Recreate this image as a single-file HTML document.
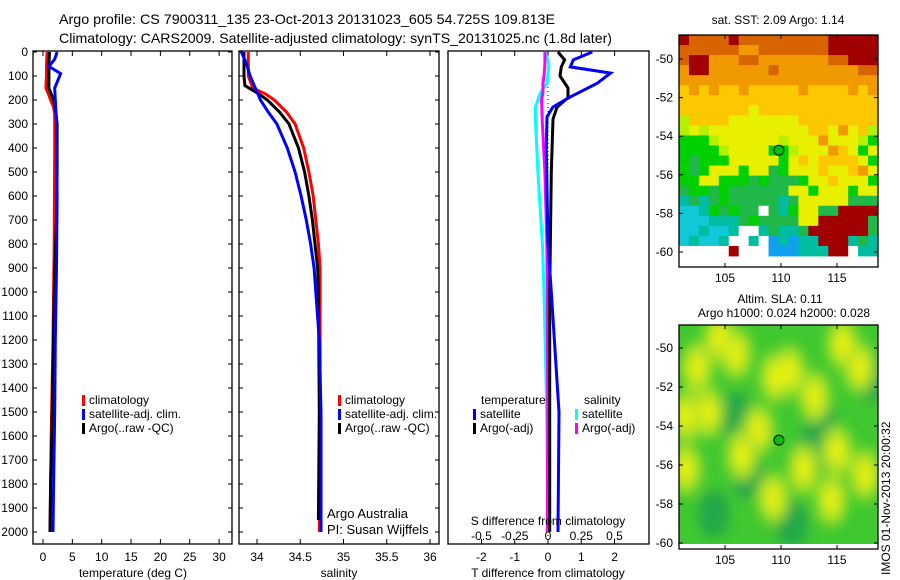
<!DOCTYPE html>
<html><head><meta charset="utf-8"><style>
body{margin:0;background:#fff;}
svg{display:block;font-family:"Liberation Sans",sans-serif;}
</style></head><body>
<svg id="fig" width="900" height="580" viewBox="0 0 900 580">
<rect width="900" height="580" fill="#fff"/>
<g font-size="14" fill="#000">
<text x="59" y="24" textLength="496" lengthAdjust="spacingAndGlyphs">Argo profile: CS 7900311_135 23-Oct-2013 20131023_605 54.725S 109.813E</text>
<text x="59" y="43" textLength="553" lengthAdjust="spacingAndGlyphs">Climatology: CARS2009. Satellite-adjusted climatology: synTS_20131025.nc (1.8d later)</text>
</g>
<g id="p1"></g>
<g id="p2"></g>
<g id="p3"></g>
<g id="m1"></g>
<g id="m2"></g>
<text transform="translate(890,575) rotate(-90)" font-size="12">IMOS 01-Nov-2013 20:00:32</text>
</svg>
<script>
// ---- data ----
const depthTicks = [0,100,200,300,400,500,600,700,800,900,1000,1100,1200,1300,1400,1500,1600,1700,1800,1900,2000];
const tempTicks = [0,5,10,15,20,25,30];
const salTicks = [34,34.5,35,35.5,36];
const tdiffTicks = [-2,-1,0,1,2];
const sdiffTicks = [-0.5,-0.25,0,0.25,0.5];

const tClimDepth = [0,50,100,150,180,200,230,260,400,800,1200,1600,2000];
const tClimVal   = [0.7,0.6,0.6,0.5,1.0,1.3,1.8,2.0,2.0,1.9,1.7,1.4,1.2];
const tSatDepth  = [0,30,60,90,120,150,200,300,600,900,1200,1500,1800,2000];
const tSatVal    = [2.4,2.0,1.0,3.0,2.5,2.0,2.1,2.3,2.4,2.3,2.1,2.0,1.8,1.7];
const tArgoDepth = [0,50,100,150,200,250,300,500,700,1000,1300,1600,1800,2000];
const tArgoVal   = [1.1,1.0,1.0,1.0,1.8,2.2,2.4,2.4,2.3,1.9,1.7,1.5,1.3,1.2];

const sClimDepth = [0,100,150,175,200,250,300,400,500,600,700,800,900,1000,1500,2000];
const sClimVal   = [33.9,33.9,33.95,34.1,34.2,34.34,34.44,34.54,34.6,34.65,34.68,34.71,34.73,34.73,34.73,34.72];
const sSatDepth  = [0,50,100,150,200,250,300,400,500,600,700,800,900,1000,1200,1500,2000];
const sSatVal    = [33.82,33.88,33.92,33.98,34.04,34.13,34.23,34.35,34.44,34.51,34.57,34.62,34.66,34.68,34.72,34.74,34.74];
const sArgoDepth = [0,100,140,170,200,250,300,400,500,600,700,800,900,1000,1500,1950];
const sArgoVal   = [33.85,33.85,33.86,34.0,34.12,34.26,34.37,34.48,34.55,34.6,34.64,34.67,34.7,34.71,34.72,34.71];

const dTSatDepth = [0,33,62,88,130,187,229,270,400,800,1000,1500,2000];
const dTSatVal   = [1.33,0.76,0.67,1.88,1.48,0.67,0.15,-0.03,-0.05,0.0,0.1,0.33,0.3];
const dTArgoDepth= [0,33,62,100,150,190,230,280,500,1000,1500,2000];
const dTArgoVal  = [0.3,0.5,0.4,0.36,0.6,0.6,0.27,0.15,0.1,0.05,0.05,0.05];
const dSSatDepth = [0,50,130,170,230,280,500,800,1000,1500,2000];
const dSSatVal   = [-0.019,0.007,-0.007,-0.057,-0.095,-0.095,-0.076,-0.042,-0.03,-0.01,0.0];
const dSArgoDepth= [0,50,100,130,170,200,300,500,800,1000,1500,2000];
const dSArgoVal  = [-0.023,-0.023,-0.03,-0.038,-0.038,-0.049,-0.042,-0.023,-0.008,-0.005,-0.002,-0.005];

const sstRows = [
"ROOOOROOOOOOOOORRRRR",
"OOOOOOooOOOOOOORRRRR",
"ORRoooOOoooooooOORRR",
"oRRooooooOooooooooOO",
"oooooooooooooooooooo",
"YoYoYYoYYYYYoYYYYoYo",
"YYYYYYYYYYYYYYYYYYYY",
"YYYYYYYyYYYYYYYYYYYY",
"lYYYYyyyyyyyYYYYYYYY",
"lylyyyyyyyyyyYYyoyYl",
"GGGlyyyyyylyyyoyyylG",
"GGGGlyyyyGGlyyyoYyGy",
"GgGGGyyyyyGyYyYYYYyG",
"GgGyyyGyygGyyyYyyYoy",
"GGyyGGGgGgggGyyYyyyG",
"gGGgGggggggyyGyyyGyy",
"tgtgGgggggtgyyyyyggg",
"cctGgGggWgtGyyggRRRR",
"ccctttgGggggyyRRRRRg",
"cctcctWWtgttgRRRRRRg",
"ctcctWWtWbtbttRRRtgt",
"WWWWWRWWWbbbtttRRWtt"];
const slaBlobLon = [102.5,106,109.5,110.8,115.5,103.5,108,101.5,115,109.3,113,117,104.5,112,114.5,106.5,101.5,117.5];
const slaBlobLat = [-51,-50.3,-51.5,-51.2,-49.8,-53.3,-54.2,-56.2,-55.3,-57.7,-52.5,-51,-49.5,-56.2,-57.8,-55.5,-53.5,-56.5];
const slaLowLon = [106,112.5,104,118,111,107,113.5];
const slaLowLat = [-53.5,-55.5,-58.5,-51.5,-59,-56.5,-53.8];

// ---- helpers ----
const NS='http://www.w3.org/2000/svg';
function mk(parent,tag,attrs){const e=document.createElementNS(NS,tag);for(const k in attrs)e.setAttribute(k,attrs[k]);parent.appendChild(e);return e;}
function txt(parent,x,y,s,anchor,size){const t=mk(parent,'text',{x:x,y:y,'text-anchor':anchor||'middle','font-size':size||12});t.textContent=s;return t;}
const yD = d => 52 + 0.24*d;
const PT=51, PB=544;

function frame(g,x0,x1){
  const r=mk(g,'rect',{x:x0,y:PT,width:x1-x0,height:PB-PT,fill:'none',stroke:'#000','stroke-width':1.3});
  
  
}
function stepLine(g,depths,vals,xf,color,name,w){
  let pts=[];
  for(let i=0;i<depths.length;i++){
    pts.push(xf(vals[i]).toFixed(1)+','+yD(depths[i]).toFixed(1));
  }
  const p=mk(g,'polyline',{points:pts.join(' '),fill:'none',stroke:color,'stroke-width':w||3,'stroke-linejoin':'miter'});
  
  
}
function legend(g,x,y,color,label){
  const r=mk(g,'rect',{x:x,y:y-9,width:3,height:11,fill:color});
  
  
  const t=txt(g,x+7,y,label,'start',12);
  
  
}

// ---- panel 1 temperature ----
const g1=document.getElementById('p1');
const xT = t => 43 + 5.87*t;
frame(g1,33,232);
depthTicks.forEach(d=>{
  const y=yD(d);
  mk(g1,'line',{x1:33,x2:37,y1:y,y2:y,stroke:'#000'});
  mk(g1,'line',{x1:228,x2:232,y1:y,y2:y,stroke:'#000'});
  const t=txt(g1,28,y+4,String(d),'end',12);
  
  
});
tempTicks.forEach(v=>{
  const x=xT(v);
  mk(g1,'line',{x1:x,x2:x,y1:PB,y2:PB-5,stroke:'#000'});
  mk(g1,'line',{x1:x,x2:x,y1:PT,y2:PT+5,stroke:'#000'});
  const t=txt(g1,x,561,String(v));
  
  
});
stepLine(g1,tClimDepth,tClimVal,xT,'#f00','temp-climatology-line');
stepLine(g1,tArgoDepth,tArgoVal,xT,'#000','temp-argo-line');
stepLine(g1,tSatDepth,tSatVal,xT,'#00f','temp-satellite-line');
legend(g1,82,404,'#f00','climatology');
legend(g1,82,418,'#00f','satellite-adj. clim.');
legend(g1,82,432,'#000','Argo(..raw -QC)');
(function(){const t=txt(g1,133,577,'temperature (deg C)');})();

// ---- panel 2 salinity ----
const g2=document.getElementById('p2');
const xS = s => 257 + 86.5*(s-34);
frame(g2,239,439);
depthTicks.forEach(d=>{const y=yD(d);mk(g2,'line',{x1:239,x2:243,y1:y,y2:y,stroke:'#000'});mk(g2,'line',{x1:435,x2:439,y1:y,y2:y,stroke:'#000'});});
salTicks.forEach(v=>{
  const x=xS(v);
  mk(g2,'line',{x1:x,x2:x,y1:PB,y2:PB-5,stroke:'#000'});
  mk(g2,'line',{x1:x,x2:x,y1:PT,y2:PT+5,stroke:'#000'});
  const t=txt(g2,x,561,String(v));
  
  
});
stepLine(g2,sClimDepth,sClimVal,xS,'#f00','sal-climatology-line');
stepLine(g2,sArgoDepth,sArgoVal,xS,'#000','sal-argo-line');
stepLine(g2,sSatDepth,sSatVal,xS,'#00f','sal-satellite-line');
legend(g2,338,404,'#f00','climatology');
legend(g2,338,418,'#00f','satellite-adj. clim.');
legend(g2,338,432,'#000','Argo(..raw -QC)');
(function(){let t=txt(g2,327,518,'Argo Australia','start',13);
t=txt(g2,327,534,'PI: Susan Wijffels','start',13);
t=txt(g2,339,577,'salinity');})();

// ---- panel 3 differences ----
const g3=document.getElementById('p3');
const xDT = v => 548 + 33.3*v;
const xDS = v => 548 + 133*v;
frame(g3,448,649);
tdiffTicks.forEach(v=>{
  const x=xDT(v);
  mk(g3,'line',{x1:x,x2:x,y1:PT,y2:PT+5,stroke:'#000'});
  const t=txt(g3,x,561,String(v));
  
  
});
sdiffTicks.forEach(v=>{
  const x=xDS(v);
  mk(g3,'line',{x1:x,x2:x,y1:PB,y2:PB-5,stroke:'#000'});
  const t=txt(g3,x,540,String(v));
  
  
});
mk(g3,'line',{x1:548,x2:548,y1:PT,y2:PB,stroke:'#000','stroke-dasharray':'1,3'});
stepLine(g3,dSSatDepth,dSSatVal,xDS,'#0ff','sdiff-satellite-line');
stepLine(g3,dSArgoDepth,dSArgoVal,xDS,'#f0f','sdiff-argo-line');
stepLine(g3,dTArgoDepth,dTArgoVal,xDT,'#000','tdiff-argo-line');
stepLine(g3,dTSatDepth,dTSatVal,xDT,'#00f','tdiff-satellite-line');
(function(){let t=txt(g3,481,404,'temperature','start',12);
t=txt(g3,584,404,'salinity','start',12);})();
legend(g3,473,418,'#00f','satellite');
legend(g3,473,432,'#000','Argo(-adj)');
legend(g3,575,418,'#0ff','satellite');
legend(g3,575,432,'#f0f','Argo(-adj)');
(function(){let t=txt(g3,548,525,'S difference from climatology','middle',12);
t=txt(g3,548,577,'T difference from climatology');})();

// ---- maps ----
const xLon = l => 725 + 11.2*(l-105);
function mapAxes(g,top,bot,yLat){
  [105,110,115].forEach(l=>{
    const x=xLon(l);
    mk(g,'line',{x1:x,x2:x,y1:top,y2:top+4,stroke:'#000'});
    mk(g,'line',{x1:x,x2:x,y1:bot,y2:bot-4,stroke:'#000'});
    const t=txt(g,x,bot+15,String(l));
    
    
  });
  [-50,-52,-54,-56,-58,-60].forEach(l=>{
    const y=yLat(l);
    mk(g,'line',{x1:679,x2:683,y1:y,y2:y,stroke:'#000'});
    mk(g,'line',{x1:874,x2:878,y1:y,y2:y,stroke:'#000'});
    const t=txt(g,673,y+4,String(l),'end',12);
    
    
  });
  const r=mk(g,'rect',{x:679,y:top,width:199,height:bot-top,fill:'none',stroke:'#000','stroke-width':1.3});
  
  
}
// SST map
const m1=document.getElementById('m1');
const col={R:'#a00000',O:'#d86400',o:'#f09a00',Y:'#fcc800',y:'#e8f000',l:'#b4f000',G:'#00d000',g:'#20b848',t:'#00bca0',c:'#10c8d8',b:'#10a0f0',W:'#ffffff'};
const cw=199/20, ch=(256-35)/sstRows.length;
sstRows.forEach((row,ri)=>{
  for(let ci=0;ci<row.length;ci++){
    const r=mk(m1,'rect',{x:(679+ci*cw).toFixed(2),y:(35+ri*ch).toFixed(2),width:(cw+0.4).toFixed(2),height:(ch+0.4).toFixed(2),fill:col[row[ci]]});
    
    
  }
});
const yLat1 = l => 59 + (-50-l)*19.3;
mapAxes(m1,35,267,yLat1);
(function(){const c=mk(m1,'circle',{cx:xLon(109.813),cy:yLat1(-54.725),r:5,fill:'#00c000',stroke:'#000'});
const t=txt(m1,778,24,'sat. SST: 2.09 Argo: 1.14','middle',12);})();
// SLA map
const m2=document.getElementById('m2');
const yLat2 = l => 348 + (-50-l)*19.5;
(function(){
  const defs=mk(m2,'defs',{});
  const f=mk(defs,'filter',{id:'bl',x:'-50%',y:'-50%',width:'200%',height:'200%'});
  mk(f,'feGaussianBlur',{stdDeviation:6});
  const cp=mk(defs,'clipPath',{id:'cp2'});
  mk(cp,'rect',{x:679,y:325,width:199,height:219});
  const gg=mk(m2,'g',{'clip-path':'url(#cp2)'});
  const b=mk(gg,'rect',{x:679,y:325,width:199,height:219,fill:'#40c830'});
  
  
  const gb=mk(gg,'g',{filter:'url(#bl)'});
  slaLowLon.forEach((lo,i)=>{
    const e=mk(gb,'ellipse',{cx:xLon(lo),cy:yLat2(slaLowLat[i]),rx:16,ry:24,fill:'#22a848'});
    
    
  });
  slaBlobLon.forEach((lo,i)=>{
    const e=mk(gb,'ellipse',{cx:xLon(lo),cy:yLat2(slaBlobLat[i]),rx:16,ry:26,fill:'#a8e028'});
    
    
  });
  slaBlobLon.forEach((lo,i)=>{
    const e=mk(gb,'ellipse',{cx:xLon(lo),cy:yLat2(slaBlobLat[i]),rx:8,ry:14,fill:'#e8f010'});
    
    
  });
})();
mapAxes(m2,325,549,yLat2);
(function(){const c=mk(m2,'circle',{cx:xLon(109.813),cy:yLat2(-54.725),r:5,fill:'#00c000',stroke:'#000'});
let t=txt(m2,780,303,'Altim. SLA: 0.11','middle',12);
t=txt(m2,784,317,'Argo h1000: 0.024 h2000: 0.028','middle',12);})();
</script>
</body></html>
